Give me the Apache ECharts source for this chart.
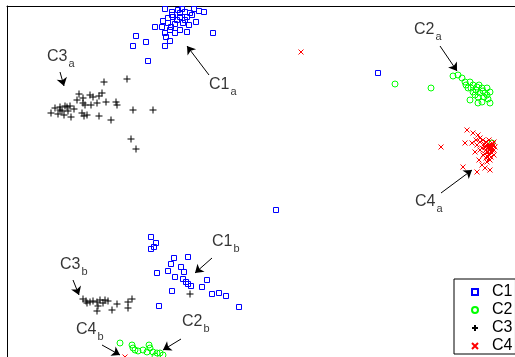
<!DOCTYPE html>
<html>
<head>
<meta charset="utf-8">
<script src="https://cdn.jsdelivr.net/npm/echarts@6/dist/echarts.min.js"></script>
<style>
  html, body { margin: 0; padding: 0; background: #fff; }
  #chart { width: 515px; height: 357px; }
</style>
</head>
<body>
<div id="chart"></div>
<script>
// values (image units, y grows downward)
const c1 = [
  [165,9],[172,15],[180,13],[185,12],[187,17],[194,9],[199,11],[204,12],[163,21],[168,18],
  [173,17],[180,17],[192,15],[196,22],[189,25],[183,23],[175,24],[168,23],[155,27],[180,30],
  [170,30],[165,33],[175,33],[187,32],[213,33],[136,36],[146,42],[133,46],[170,41],[165,46],
  [148,61],[177,20],[185,20],[190,13],[178,10],[162,27],[171,27],[166,37],[172,12],[182,9],
  [378,73],[276,210],
  [151,237],[156,243],[154,247],[151,249],[174,258],[188,257],[171,264],[181,267],[168,271],
  [157,273],[184,272],[175,277],[183,279],[186,282],[188,284],[191,286],[207,280],[202,287],
  [172,291],[212,294],[219,293],[226,296],[239,307],[159,306]
]
const c2 = [
  [453,76],[458,75],[462,78],[465,82],[470,82],[473,85],[477,87],[482,88],[487,88],[490,92],
  [485,93],[480,93],[473,92],[470,100],[478,97],[482,102],[490,103],[478,103],[468,88],[475,95],
  [487,95],[466,85],[471,88],[476,90],[483,91],[479,85],[488,99],[484,97],[431,88],[395,84],
  [492,143],
  [120,343],[132,345],[133,348],[138,351],[143,350],[149,345],[150,348],[147,352],[153,352],
  [157,353],[160,353],[163,355],[135,350],[155,356]
]
const c3 = [
  [104,82],[127,79],[79,94],[90,95],[93,97],[99,96],[102,93],[77,100],[83,98],[83,103],
  [85,105],[91,105],[97,103],[106,102],[116,102],[117,105],[55,108],[60,107],[67,107],[70,106],
  [74,109],[62,111],[68,111],[51,113],[58,114],[64,115],[71,117],[82,113],[84,116],[87,115],
  [99,116],[111,120],[133,110],[153,110],[131,139],[136,149],[65,106],[60,110],
  [83,299],[86,301],[90,302],[93,301],[97,302],[100,300],[103,303],[108,301],[117,304],[98,306],
  [97,311],[112,310],[128,308],[128,302],[132,299],[87,303],[105,300],[190,294]
]
const c4 = [
  [301,52],[441,147],[467,130],[473,133],[478,135],[480,138],[465,143],[472,143],[477,145],[480,150],
  [485,147],[487,152],[488,157],[483,155],[479,160],[487,162],[463,167],[477,172],[485,168],[490,170],
  [490,145],[492,148],[488,148],[491,152],[494,150],[486,142],[483,140],[489,140],[493,144],[486,158],
  [490,160],[482,165],[475,152],[489,145],[491,147],[493,146],[490,150],[492,153],[489,155],[491,157],
  [494,155],[488,152],[487,145],[495,147],[494,142],[486,150],[484,144],[482,148],[480,142],[476,140],
  [489,159],[485,154],[487,156],[492,150],[490,148],
  [125,357],[120,362],[130,365]
]

// annotations: name, subscript, text top-left, arrow start, arrow tip
const annotNames = ['C1', 'C3', 'C2', 'C4', 'C1', 'C3', 'C4', 'C2']
const annotSubs = ['a', 'a', 'a', 'a', 'b', 'b', 'b', 'b']
const annotPos = [[209,77],[47,49],[414,22],[415,194],[212,234],[60,257],[76,322],[182,314]]
const arrowFrom = [[209,75],[60,72],[440,46],[441,193],[212,258],[73,280],[102,345],[181,339]]
const arrowTo = [[187,46],[64,86],[457,71],[472,170],[195,273],[79,295],[120,355],[163,350]]

const legendNames = ['C1', 'C2', 'C3', 'C4']

const chart = echarts.init(document.getElementById('chart'))
const font = 'Liberation Sans, Arial, sans-serif'

const plusPath = 'path://M0,5L10,5M5,0L5,10'
const crossPath = 'path://M0,0L10,10M10,0L0,10'

function pointSeries(name, data, symbol, size, color) {
  return {
    name,
    type: 'scatter',
    data,
    symbol,
    symbolSize: size,
    itemStyle: { color: 'rgba(0,0,0,0)', borderColor: color, borderWidth: 1, opacity: 1 },
    emphasis: { disabled: true },
    silent: true
  }
}

const axisLine = { show: true, onZero: false, lineStyle: { color: '#000', width: 1 } }

const option = {
  animation: false,
  grid: { left: 7, top: 6, right: 0, bottom: 0, show: false },
  xAxis: {
    type: 'value', min: 7, max: 515, position: 'top',
    axisLine, axisTick: { show: false }, axisLabel: { show: false }, splitLine: { show: false }
  },
  yAxis: {
    type: 'value', min: 6, max: 357, inverse: true, position: 'left',
    axisLine, axisTick: { show: false }, axisLabel: { show: false }, splitLine: { show: false }
  },
  legend: {
    data: legendNames,
    orient: 'vertical',
    left: 454,
    top: 279,
    padding: [5, 3, 0, 17],
    itemWidth: 6,
    itemHeight: 6,
    itemGap: 2,
    backgroundColor: '#fff',
    borderColor: '#000',
    borderWidth: 1,
    borderRadius: 0,
    selectedMode: false,
    textStyle: { fontSize: 16, fontFamily: font, color: '#000', padding: [0, 0, 0, 9] }
  },
  series: [
    pointSeries('C1', c1, 'rect', 5, '#0000ff'),
    pointSeries('C2', c2, 'circle', 6, '#00ff00'),
    pointSeries('C3', c3, plusPath, 7, '#000000'),
    pointSeries('C4', c4, crossPath, 5, '#ff0000'),
    {
      name: 'annotations',
      type: 'scatter',
      symbolSize: 0,
      silent: true,
      data: annotPos.map((p, i) => ({ value: p, name: annotNames[i], sub: annotSubs[i] })),
      label: {
        show: true,
        position: [0, 0],
        align: 'left',
        verticalAlign: 'top',
        formatter: (p) => '{m|' + p.name + '}{s|' + p.data.sub + '}',
        rich: {
          m: { fontSize: 16, lineHeight: 16, fontFamily: font, color: '#000', verticalAlign: 'top' },
          s: { fontSize: 11, lineHeight: 11, fontFamily: font, color: '#000', verticalAlign: 'top', padding: [9, 0, 0, 1] }
        }
      },
      markLine: {
        silent: true,
        animation: false,
        symbol: ['none', 'arrow'],
        symbolSize: 8,
        label: { show: false },
        lineStyle: { color: '#000', width: 1, type: 'solid' },
        emphasis: { disabled: true },
        data: arrowFrom.map((f, i) => [{ coord: f }, { coord: arrowTo[i] }])
      }
    }
  ]
}

chart.setOption(option)
</script>
</body>
</html>
